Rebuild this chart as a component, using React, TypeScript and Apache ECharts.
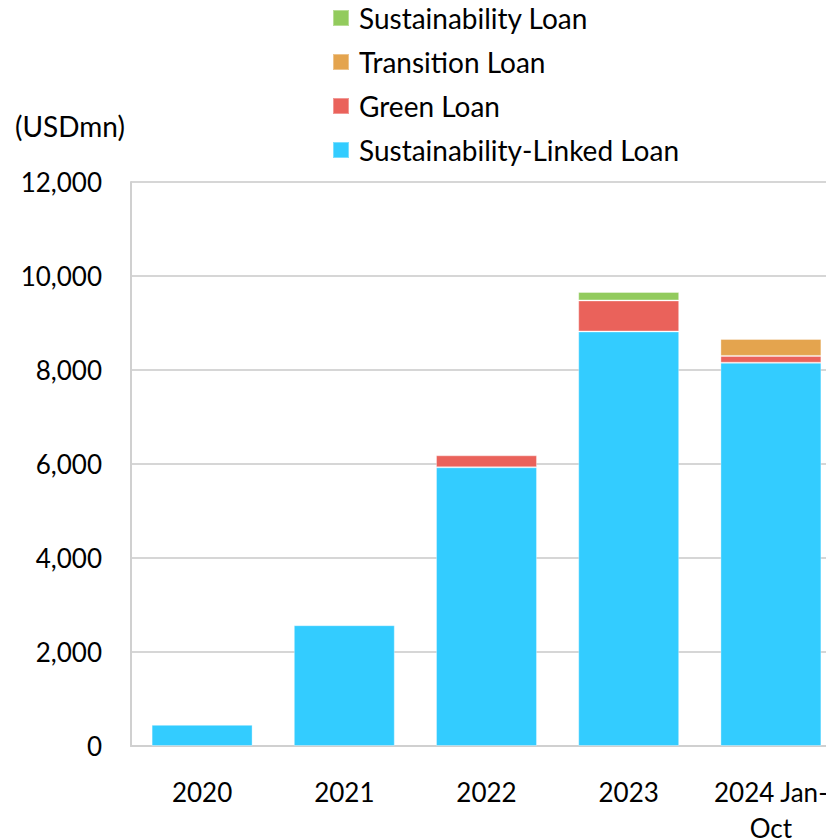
import React, { useEffect, useRef } from "react";
import * as echarts from "echarts";

const categories = ["2020", "2021", "2022", "2023", "2024 Jan-\nOct"];
const sustainabilityLinkedLoan = [450, 2570, 5930, 8820, 8155];
const greenLoan = [0, 0, 255, 660, 145];
const transitionLoan = [0, 0, 0, 0, 360];
const sustainabilityLoan = [0, 0, 0, 180, 0];
const yTicks = { min: 0, max: 12000, interval: 2000 };
const unitLabel = "(USDmn)";

const FONT = "Lato, 'Open Sans', sans-serif";

export default function App() {
  const ref = useRef<HTMLDivElement>(null);
  useEffect(() => {
    if (!ref.current) return;
    const chart = echarts.init(ref.current, null, { renderer: "svg" });
    const toData = (arr: number[]) => arr.map((v) => (v === 0 ? null : v));
    const mk = (name: string, arr: number[], color: string) => ({
      name,
      type: "bar",
      stack: "total",
      data: toData(arr),
      barCategoryGap: "29%",
      itemStyle: { color, borderColor: "rgba(255,255,255,0.35)", borderWidth: 1 },
    });
    chart.setOption({
      animation: false,
      textStyle: { fontFamily: FONT },
      grid: {
        left: 131,
        top: 182,
        width: 711,
        height: 564,
        containLabel: false,
        outerBoundsMode: "none",
      },
      legend: {
        orient: "vertical",
        left: 327,
        top: -2,
        itemWidth: 16,
        itemHeight: 16,
        itemGap: 14,
        icon: "rect",
        data: ["Sustainability Loan", "Transition Loan", "Green Loan", "Sustainability-Linked Loan"],
        textStyle: { fontSize: 28, color: "#000", fontFamily: FONT, lineHeight: 30, padding: [0, 0, 0, 5] },
      },
      graphic: [
        {
          type: "text",
          left: 15,
          top: 112,
          style: { text: unitLabel, fontSize: 28, fill: "#000", fontFamily: FONT },
        },
      ],
      xAxis: {
        type: "category",
        data: categories,
        axisLine: { show: true, lineStyle: { color: "#D0D0D0", width: 2 } },
        axisTick: { show: false },
        axisLabel: { interval: 0, fontSize: 26, color: "#000", margin: 28, lineHeight: 36, fontFamily: FONT },
      },
      yAxis: {
        type: "value",
        min: yTicks.min,
        max: yTicks.max,
        interval: yTicks.interval,
        axisLine: { show: true, lineStyle: { color: "#D0D0D0", width: 2 } },
        axisTick: { show: false },
        splitLine: { show: true, lineStyle: { color: "#C8C8C8", width: 1.5 } },
        axisLabel: {
          fontSize: 26,
          color: "#000",
          margin: 29,
          fontFamily: FONT,
          formatter: (v: number) => v.toLocaleString("en-US"),
        },
      },
      series: [
        mk("Sustainability-Linked Loan", sustainabilityLinkedLoan, "#33CCFF"),
        mk("Green Loan", greenLoan, "#EA625B"),
        mk("Transition Loan", transitionLoan, "#E4A44E"),
        mk("Sustainability Loan", sustainabilityLoan, "#92CB5D"),
      ],
    });
    return () => chart.dispose();
  }, []);
  return (
    <div
      ref={ref}
      style={{ position: "fixed", left: 0, top: 0, width: 826, height: 840, background: "#fff" }}
    />
  );
}
